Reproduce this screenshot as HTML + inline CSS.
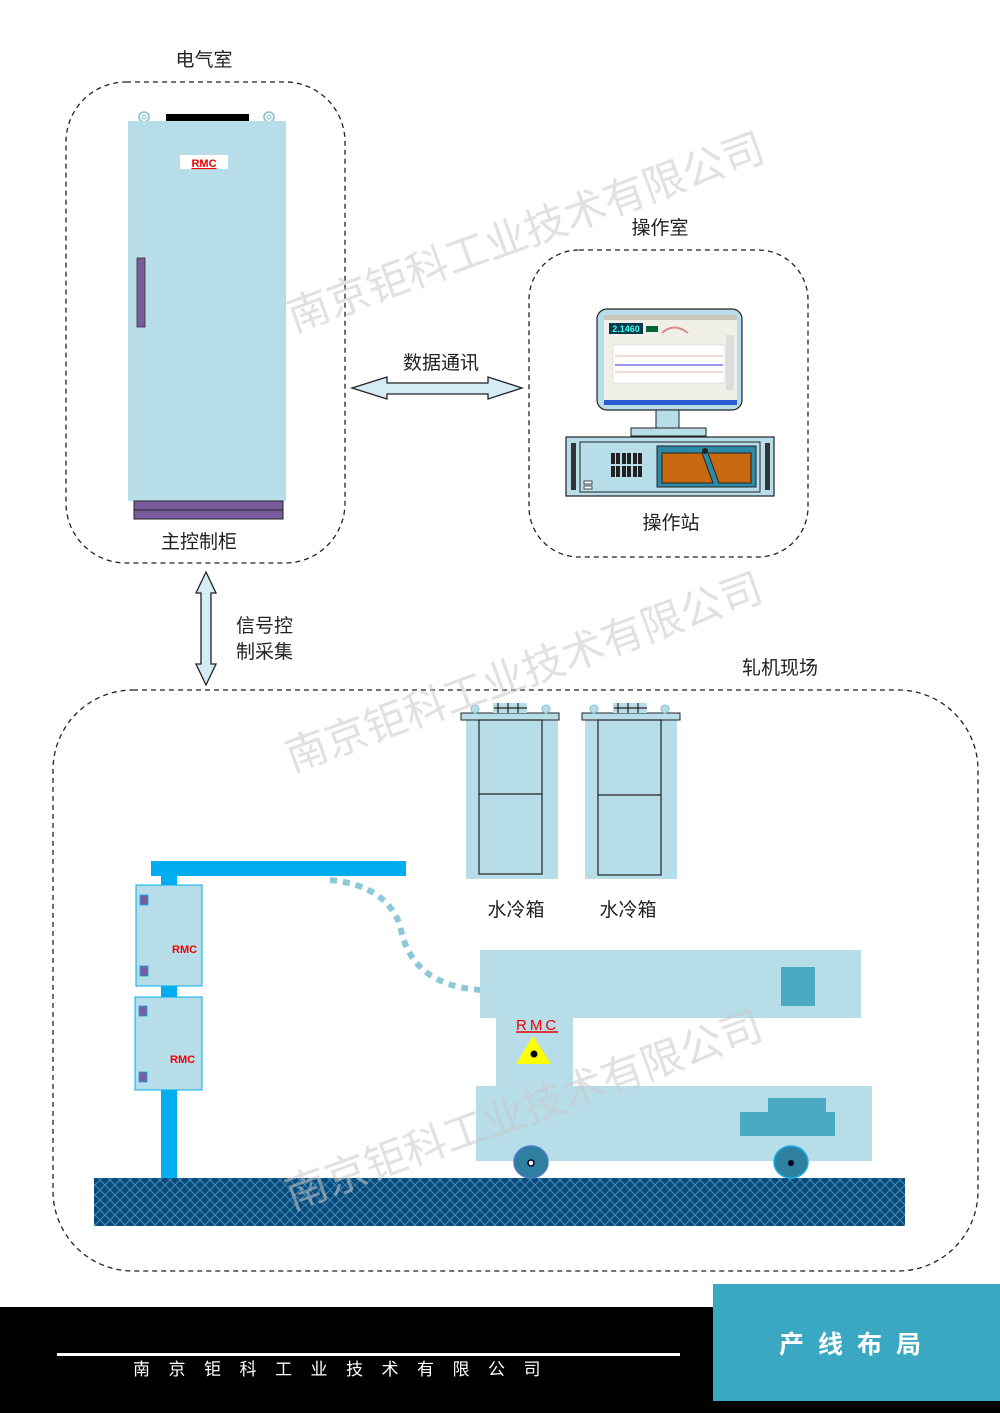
<!DOCTYPE html>
<html><head><meta charset="utf-8"><style>
html,body{margin:0;padding:0;background:#fff}
svg{display:block}
text{font-family:"Liberation Sans","Noto Sans CJK SC",sans-serif}
</style></head><body>
<svg width="1000" height="1413" viewBox="0 0 1000 1413" xmlns="http://www.w3.org/2000/svg">
<defs>
<pattern id="hatch" width="10" height="10" patternUnits="userSpaceOnUse">
<rect width="10" height="10" fill="#0b4a78"/>
<path d="M0 0L10 10M10 0L0 10" stroke="#3f8fc0" stroke-width="1"/>
</pattern>
</defs>
<rect width="1000" height="1413" fill="#fff"/>

<text x="204" y="66" font-size="19" text-anchor="middle" fill="#222">电气室</text>
<rect x="66" y="82" width="279" height="481" rx="60" fill="none" stroke="#222" stroke-width="1.3" stroke-dasharray="5,4"/>
<circle cx="144" cy="117" r="5" fill="none" stroke="#7fc0d0" stroke-width="1.5"/><circle cx="144" cy="117" r="2" fill="none" stroke="#7fc0d0"/>
<circle cx="269" cy="117" r="5" fill="none" stroke="#7fc0d0" stroke-width="1.5"/><circle cx="269" cy="117" r="2" fill="none" stroke="#7fc0d0"/>
<rect x="166" y="114" width="83" height="7" fill="#000"/>
<rect x="128" y="121" width="158" height="380" fill="#b7dde8"/>
<rect x="180" y="155" width="48" height="14" fill="#fff"/>
<text x="204" y="167" font-size="11" font-weight="bold" fill="#e00" text-anchor="middle" text-decoration="underline">RMC</text>
<rect x="137" y="258" width="8" height="69" fill="#7a5c9e" stroke="#333" stroke-width="0.8"/>
<rect x="134" y="501" width="149" height="9" fill="#7a5c9e" stroke="#222" stroke-width="1"/>
<rect x="134" y="510" width="149" height="9" fill="#7a5c9e" stroke="#222" stroke-width="1"/>
<text x="199" y="548" font-size="19" text-anchor="middle" fill="#222">主控制柜</text>

<text x="441" y="369" font-size="19" text-anchor="middle" fill="#222">数据通讯</text>
<path d="M352 388 L387 377 L387 383 L488 383 L488 377 L522 388 L488 399 L488 394 L387 394 L387 399 Z" fill="#d6ecf5" stroke="#222" stroke-width="1.3"/>

<text x="660" y="234" font-size="19" text-anchor="middle" fill="#222">操作室</text>
<rect x="529" y="250" width="279" height="307" rx="50" fill="none" stroke="#222" stroke-width="1.3" stroke-dasharray="5,4"/>
<rect x="597" y="309" width="145" height="101" rx="10" fill="#b7dde8" stroke="#222" stroke-width="1.2"/>
<rect x="604" y="315" width="133" height="90" fill="#f0efe8"/>
<rect x="604" y="315" width="133" height="5" fill="#c9c7b8"/>
<rect x="609" y="323" width="34" height="11" fill="#0b3a4a"/>
<text x="626" y="332" font-size="9" font-weight="bold" fill="#4fe" text-anchor="middle">2.1460</text>
<rect x="646" y="326" width="12" height="6" fill="#063"/>
<path d="M662 333 Q674 322 688 333" fill="none" stroke="#d88" stroke-width="2"/>
<rect x="613" y="345" width="112" height="38" fill="#fff" stroke="#ccc" stroke-width="0.5"/>
<line x1="615" y1="356" x2="723" y2="356" stroke="#d66" stroke-width="0.6"/>
<line x1="615" y1="365" x2="723" y2="365" stroke="#33c" stroke-width="1"/>
<line x1="615" y1="372" x2="723" y2="372" stroke="#d66" stroke-width="0.6"/>
<rect x="726" y="335" width="8" height="55" fill="#ddd"/>
<rect x="604" y="400" width="133" height="5" fill="#2a5bd0"/>
<rect x="656" y="410" width="23" height="18" fill="#b7dde8" stroke="#222" stroke-width="1"/>
<rect x="631" y="428" width="75" height="8" fill="#b7dde8" stroke="#222" stroke-width="1"/>
<rect x="566" y="437" width="208" height="59" fill="#b7dde8" stroke="#222" stroke-width="1.2"/>
<rect x="580" y="442" width="180" height="50" fill="none" stroke="#222" stroke-width="1"/>
<rect x="571" y="443" width="5" height="47" fill="#333"/>
<rect x="765" y="443" width="5" height="47" fill="#333"/>
<g fill="#222">
<rect x="611" y="453" width="4" height="11"/><rect x="616" y="453" width="4" height="11"/><rect x="622" y="453" width="4" height="11"/><rect x="627" y="453" width="4" height="11"/><rect x="633" y="453" width="4" height="11"/><rect x="638" y="453" width="4" height="11"/>
<rect x="611" y="466" width="4" height="11"/><rect x="616" y="466" width="4" height="11"/><rect x="622" y="466" width="4" height="11"/><rect x="627" y="466" width="4" height="11"/><rect x="633" y="466" width="4" height="11"/><rect x="638" y="466" width="4" height="11"/>
</g>
<rect x="584" y="481" width="8" height="3" fill="#fff" stroke="#222" stroke-width="0.8"/>
<rect x="584" y="486" width="8" height="3" fill="#fff" stroke="#222" stroke-width="0.8"/>
<rect x="657" y="446" width="99" height="41" fill="#2e8aa6" stroke="#222" stroke-width="1"/>
<path d="M662 453 L702 453 L713 483 L662 483 Z" fill="#c8690f" stroke="#222" stroke-width="1"/>
<path d="M708 453 L751 453 L751 483 L719 483 Z" fill="#c8690f" stroke="#222" stroke-width="1"/>
<circle cx="705" cy="451" r="3" fill="#222"/>
<text x="671" y="529" font-size="19" text-anchor="middle" fill="#222">操作站</text>

<path d="M206 572 L216 593 L211 593 L211 664 L216 664 L206 685 L196 664 L201 664 L201 593 L196 593 Z" fill="#d6ecf5" stroke="#222" stroke-width="1.3"/>
<text x="236" y="632" font-size="19" fill="#222">信号控</text>
<text x="236" y="658" font-size="19" fill="#222">制采集</text>

<text x="780" y="674" font-size="19" text-anchor="middle" fill="#222">轧机现场</text>
<rect x="53" y="690" width="925" height="581" rx="80" fill="none" stroke="#222" stroke-width="1.3" stroke-dasharray="5,4"/>

<g>
<rect x="466" y="716" width="92" height="163" fill="#b7dde8"/>
<rect x="461" y="713" width="98" height="7" fill="#b7dde8" stroke="#222" stroke-width="1"/>
<rect x="479" y="720" width="63" height="154" fill="none" stroke="#222" stroke-width="1.2"/>
<line x1="479" y1="794" x2="542" y2="794" stroke="#222" stroke-width="1.2"/>
<circle cx="475" cy="709" r="4" fill="#b7dde8" stroke="#7fc0d0"/><circle cx="546" cy="709" r="4" fill="#b7dde8" stroke="#7fc0d0"/>
<rect x="493" y="703" width="34" height="10" fill="#b7dde8"/>
<path d="M494 708 L527 708 M498 703 L498 713 M508 703 L508 713 M518 703 L518 713" stroke="#222" stroke-width="1.2"/>
</g>
<g>
<rect x="585" y="716" width="92" height="163" fill="#b7dde8"/>
<rect x="582" y="713" width="98" height="7" fill="#b7dde8" stroke="#222" stroke-width="1"/>
<rect x="598" y="720" width="63" height="155" fill="none" stroke="#222" stroke-width="1.2"/>
<line x1="598" y1="795" x2="661" y2="795" stroke="#222" stroke-width="1.2"/>
<circle cx="594" cy="709" r="4" fill="#b7dde8" stroke="#7fc0d0"/><circle cx="665" cy="709" r="4" fill="#b7dde8" stroke="#7fc0d0"/>
<rect x="613" y="703" width="34" height="10" fill="#b7dde8"/>
<path d="M614 708 L647 708 M618 703 L618 713 M628 703 L628 713 M638 703 L638 713" stroke="#222" stroke-width="1.2"/>
</g>
<text x="516" y="916" font-size="19" text-anchor="middle" fill="#222">水冷箱</text>
<text x="628" y="916" font-size="19" text-anchor="middle" fill="#222">水冷箱</text>

<rect x="94" y="1178" width="811" height="48" fill="url(#hatch)"/>

<rect x="161" y="862" width="16" height="316" fill="#00adef"/>
<rect x="151" y="861" width="255" height="15" fill="#00adef"/>
<rect x="136" y="885" width="66" height="101" fill="#b7dde8" stroke="#00adef" stroke-width="1"/>
<rect x="140" y="895" width="8" height="10" fill="#7a5c9e" stroke="#00adef" stroke-width="0.8"/>
<rect x="140" y="966" width="8" height="10" fill="#7a5c9e" stroke="#00adef" stroke-width="0.8"/>
<text x="172" y="953" font-size="11" font-weight="bold" fill="#e00">RMC</text>
<rect x="135" y="997" width="67" height="93" fill="#b7dde8" stroke="#00adef" stroke-width="1"/>
<rect x="139" y="1006" width="8" height="10" fill="#7a5c9e" stroke="#00adef" stroke-width="0.8"/>
<rect x="139" y="1072" width="8" height="10" fill="#7a5c9e" stroke="#00adef" stroke-width="0.8"/>
<text x="170" y="1063" font-size="11" font-weight="bold" fill="#e00">RMC</text>

<path d="M330 880 Q385 885 400 925 Q410 985 480 990" fill="none" stroke="#8cc9d8" stroke-width="6" stroke-dasharray="7,6"/>

<rect x="480" y="950" width="381" height="68" fill="#b7dde8"/>
<rect x="781" y="967" width="34" height="39" fill="#4aaac4"/>
<rect x="496" y="1018" width="77" height="68" fill="#b7dde8"/>
<rect x="476" y="1086" width="396" height="75" fill="#b7dde8"/>
<rect x="768" y="1098" width="58" height="14" fill="#4aaac4"/>
<rect x="740" y="1112" width="95" height="24" fill="#4aaac4"/>
<text x="516" y="1030" font-size="15" fill="#e00" font-family="Liberation Serif,serif" letter-spacing="3">RMC</text>
<line x1="516" y1="1032" x2="558" y2="1032" stroke="#e00" stroke-width="1.5"/>
<path d="M533 1036 L551 1064 L516 1064 Z" fill="#ffff00"/>
<circle cx="534" cy="1054" r="3.5" fill="#000"/>
<ellipse cx="531" cy="1162" rx="17" ry="16" fill="#2e7fa0" stroke="#4a7ac8" stroke-width="1.5"/>
<circle cx="531" cy="1163" r="3" fill="#fff" stroke="#002" stroke-width="1.5"/>
<ellipse cx="791" cy="1162" rx="17" ry="16" fill="#2e7fa0" stroke="#1aaee8" stroke-width="1.5"/>
<circle cx="791" cy="1163" r="3" fill="#002"/>

<g fill="#c8c8c8" fill-opacity="0.55" font-size="42">
<text transform="translate(294,332) rotate(-20)">南京钜科工业技术有限公司</text>
<text transform="translate(292,772) rotate(-20)">南京钜科工业技术有限公司</text>
<text transform="translate(292,1210) rotate(-20)">南京钜科工业技术有限公司</text>
</g>

<rect x="0" y="1307" width="1000" height="106" fill="#000"/>
<rect x="713" y="1284" width="287" height="117" fill="#3ba8c3"/>
<text x="857" y="1353" font-size="25" font-weight="bold" fill="#fff" text-anchor="middle" letter-spacing="14">产线布局</text>
<rect x="57" y="1353" width="623" height="3" fill="#fff"/>
<text x="133" y="1375" font-size="17" fill="#fff" letter-spacing="18.5">南京钜科工业技术有限公司</text>
</svg>
</body></html>
